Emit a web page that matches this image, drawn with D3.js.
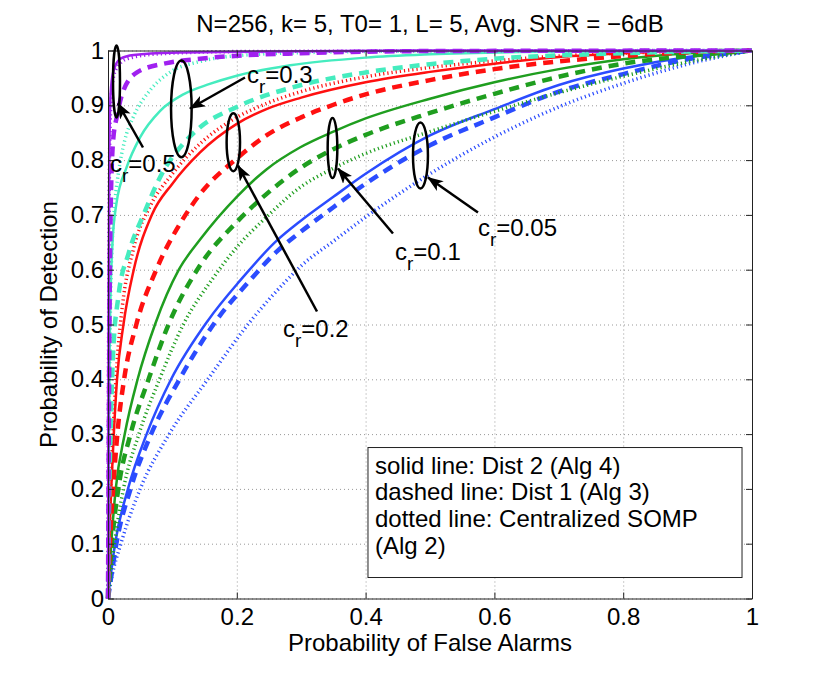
<!DOCTYPE html>
<html>
<head>
<meta charset="utf-8">
<script src="https://cdn.jsdelivr.net/npm/d3@7"></script>
<style>
body { margin: 0; background: #fff; }
text { font-family: "Liberation Sans", Arial, sans-serif; fill: #000; }
</style>
</head>
<body>
<div class="chart"></div>
<script>
// ROC points [Pfa, Pd]
const blueSolid  = [[0,0],[0.004,0.04],[0.011,0.1],[0.031,0.2],[0.06,0.3],[0.098,0.4],[0.155,0.507],[0.205,0.58],[0.262,0.653],[0.298,0.688],[0.35,0.733],[0.4,0.775],[0.5,0.845],[0.6,0.893],[0.7,0.937],[0.8,0.967],[0.9,0.988],[1,1]];
const blueDashed = [[0,0],[0.005,0.04],[0.013,0.1],[0.035,0.2],[0.067,0.3],[0.111,0.4],[0.168,0.507],[0.22,0.58],[0.262,0.633],[0.298,0.668],[0.35,0.714],[0.4,0.757],[0.5,0.827],[0.6,0.878],[0.7,0.925],[0.8,0.957],[0.9,0.984],[1,1]];
const blueDotted = [[0,0],[0.006,0.04],[0.02,0.1],[0.05,0.2],[0.095,0.3],[0.155,0.4],[0.222,0.507],[0.277,0.58],[0.3,0.607],[0.35,0.652],[0.4,0.696],[0.5,0.775],[0.6,0.842],[0.7,0.897],[0.8,0.94],[0.9,0.975],[1,1]];

const greenSolid  = [[0,0],[0.005,0.1],[0.012,0.2],[0.026,0.3],[0.046,0.4],[0.073,0.5],[0.11,0.6],[0.143,0.655],[0.2,0.733],[0.246,0.783],[0.298,0.823],[0.35,0.852],[0.4,0.876],[0.5,0.912],[0.6,0.942],[0.7,0.966],[0.8,0.984],[0.9,0.995],[1,1]];
const greenDashed = [[0,0],[0.006,0.1],[0.016,0.2],[0.035,0.3],[0.063,0.4],[0.094,0.5],[0.143,0.608],[0.2,0.687],[0.246,0.738],[0.298,0.785],[0.35,0.82],[0.4,0.846],[0.5,0.886],[0.6,0.921],[0.7,0.952],[0.8,0.976],[0.9,0.99],[1,1]];
const greenDotted = [[0,0],[0.01,0.1],[0.024,0.2],[0.048,0.3],[0.08,0.4],[0.117,0.5],[0.164,0.586],[0.2,0.641],[0.246,0.696],[0.298,0.75],[0.35,0.785],[0.4,0.812],[0.5,0.852],[0.6,0.889],[0.7,0.923],[0.8,0.953],[0.9,0.979],[1,1]];

const redSolid  = [[0,0],[0.002,0.1],[0.005,0.2],[0.009,0.3],[0.014,0.4],[0.024,0.5],[0.04,0.6],[0.068,0.7],[0.1,0.757],[0.143,0.814],[0.2,0.866],[0.246,0.893],[0.3,0.914],[0.4,0.942],[0.5,0.961],[0.6,0.976],[0.7,0.988],[0.8,0.995],[0.9,0.999],[1,1]];
const redDashed = [[0,0],[0.003,0.1],[0.008,0.2],[0.0145,0.3],[0.025,0.4],[0.044,0.5],[0.075,0.6],[0.115,0.69],[0.143,0.738],[0.2,0.803],[0.246,0.845],[0.3,0.878],[0.35,0.901],[0.4,0.92],[0.5,0.946],[0.6,0.966],[0.7,0.98],[0.8,0.99],[0.9,0.997],[1,1]];
const redDotted = [[0,0],[0.002,0.12],[0.005,0.23],[0.009,0.33],[0.014,0.43],[0.022,0.53],[0.04,0.64],[0.065,0.715],[0.1,0.775],[0.143,0.83],[0.2,0.878],[0.25,0.905],[0.3,0.925],[0.4,0.952],[0.5,0.969],[0.6,0.981],[0.7,0.99],[0.85,0.997],[1,1]];

const turqSolid  = [[0,0],[0.001,0.25],[0.003,0.5],[0.007,0.65],[0.013,0.72],[0.029,0.787],[0.05,0.842],[0.081,0.89],[0.117,0.92],[0.158,0.939],[0.2,0.954],[0.283,0.973],[0.4,0.987],[0.5,0.993],[0.7,0.998],[1,1]];
const turqDashed = [[0,0],[0.002,0.2],[0.004,0.3],[0.008,0.45],[0.016,0.55],[0.032,0.63],[0.055,0.7],[0.086,0.78],[0.117,0.83],[0.143,0.86],[0.2,0.897],[0.3,0.937],[0.4,0.96],[0.5,0.975],[0.6,0.985],[0.8,0.995],[1,1]];
const turqDotted = [[0,0],[0.002,0.35],[0.005,0.6],[0.011,0.726],[0.016,0.775],[0.026,0.836],[0.039,0.878],[0.065,0.927],[0.096,0.96],[0.143,0.98],[0.195,0.99],[0.3,0.996],[0.5,0.999],[1,1]];

const purpSolid  = [[0,0],[0.001,0.55],[0.002,0.8],[0.004,0.92],[0.008,0.96],[0.019,0.985],[0.04,0.992],[0.1,0.996],[0.25,0.998],[0.5,1],[1,1]];
const purpDashed = [[0,0],[0.002,0.45],[0.004,0.7],[0.008,0.836],[0.0135,0.878],[0.024,0.927],[0.045,0.96],[0.091,0.977],[0.143,0.985],[0.21,0.991],[0.3,0.995],[0.5,0.999],[1,1]];
const purpDotted = [[0,0],[0.001,0.5],[0.003,0.85],[0.006,0.93],[0.012,0.965],[0.03,0.985],[0.08,0.994],[0.2,0.998],[1,1]];

const xTicks = [0, 0.2, 0.4, 0.6, 0.8, 1];
const xTickLabels = ['0', '0.2', '0.4', '0.6', '0.8', '1'];
const yTicks = [0, 0.1, 0.2, 0.3, 0.4, 0.5, 0.6, 0.7, 0.8, 0.9, 1];
const yTickLabels = ['0', '0.1', '0.2', '0.3', '0.4', '0.5', '0.6', '0.7', '0.8', '0.9', '1'];

const legendLines = ['solid line: Dist 2 (Alg 4)', 'dashed line: Dist 1 (Alg 3)', 'dotted line: Centralized SOMP', '(Alg 2)'];

// annotations in data units: ellipse centre/radii, arrow tail -> head, label anchor
const crLabels   = ['0.5', '0.3', '0.2', '0.1', '0.05'];
const ellipses   = [[0.0132,0.9434,0.0054,0.0657],[0.1139,0.8936,0.016,0.0882],[0.1946,0.8325,0.0104,0.0529],[0.3486,0.8221,0.0075,0.0547],[0.4852,0.8084,0.0116,0.0602]];
const arrows     = [[0.0543,0.823,0.0155,0.9033],[0.2127,0.9507,0.1273,0.8942],[0.3245,0.5237,0.2019,0.7901],[0.4425,0.666,0.3571,0.7847],[0.5745,0.7044,0.4969,0.7682]];
const labelSpots = [[0.0031,0.7774],[0.2158,0.9398],[0.2717,0.4763],[0.4457,0.6168],[0.5745,0.6624]];

const colors = {blue: '#2b4cff', green: '#1f9e1f', red: '#ff1010', turq: '#45ecbf', purp: '#a020f0'};
const styles = {
    solid:  {w: 2.5, dash: null},
    dashed: {w: 4.5, dash: '10,7'},
    dotted: {w: 3.5, dash: '1.2,3'}
};

const series = [
    {c: colors.blue,  s: 'dotted', d: blueDotted}, {c: colors.blue,  s: 'dashed', d: blueDashed}, {c: colors.blue,  s: 'solid', d: blueSolid},
    {c: colors.green, s: 'dotted', d: greenDotted}, {c: colors.green, s: 'dashed', d: greenDashed}, {c: colors.green, s: 'solid', d: greenSolid},
    {c: colors.red,   s: 'dotted', d: redDotted}, {c: colors.red,   s: 'dashed', d: redDashed}, {c: colors.red,   s: 'solid', d: redSolid},
    {c: colors.turq,  s: 'dotted', d: turqDotted}, {c: colors.turq,  s: 'dashed', d: turqDashed}, {c: colors.turq,  s: 'solid', d: turqSolid},
    {c: colors.purp,  s: 'dotted', d: purpDotted}, {c: colors.purp,  s: 'dashed', d: purpDashed}, {c: colors.purp,  s: 'solid', d: purpSolid}
];

const width = 830, height = 674;
const plotL = 108, plotR = 752, plotT = 50.5, plotB = 598.5;
const fontSize = 24;

const x = d3.scaleLinear().domain([0, 1]).range([plotL, plotR]);
const y = d3.scaleLinear().domain([0, 1]).range([plotB, plotT]);

const svg = d3.select('.chart').append('svg')
    .attr('width', width)
    .attr('height', height);

svg.append('rect').attr('x', plotL).attr('y', plotT)
    .attr('width', plotR - plotL).attr('height', plotB - plotT)
    .attr('fill', '#fff');

// dotted grid
svg.append('g')
    .attr('transform', 'translate(0,' + plotB + ')')
    .call(d3.axisBottom(x).tickValues(xTicks).tickSize(-(plotB - plotT)).tickFormat(''))
    .call(g => g.select('.domain').remove())
    .selectAll('line').attr('stroke', '#999').attr('stroke-dasharray', '1,3');
svg.append('g')
    .attr('transform', 'translate(' + plotL + ',0)')
    .call(d3.axisLeft(y).tickValues(yTicks).tickSize(-(plotR - plotL)).tickFormat(''))
    .call(g => g.select('.domain').remove())
    .selectAll('line').attr('stroke', '#999').attr('stroke-dasharray', '1,3');

// curves
const line = d3.line()
    .x(d => x(d[0]))
    .y(d => y(d[1]))
    .curve(d3.curveMonotoneX);

svg.selectAll('.roc')
    .data(series)
    .enter().append('path')
    .attr('class', 'roc')
    .attr('fill', 'none')
    .attr('stroke', d => d.c)
    .attr('stroke-width', d => styles[d.s].w)
    .attr('stroke-dasharray', d => styles[d.s].dash)
    .attr('d', d => line(d.d));

// axes box with inward ticks
const axisStyle = g => {
    g.selectAll('.domain').attr('stroke', '#222');
    g.selectAll('.tick line').attr('stroke', '#222');
    g.selectAll('text').attr('font-size', fontSize).attr('font-family', '"Liberation Sans", Arial, sans-serif').attr('fill', '#000');
};
svg.append('g')
    .attr('transform', 'translate(0,' + plotB + ')')
    .call(d3.axisBottom(x).tickValues(xTicks).tickSizeInner(-6).tickSizeOuter(0).tickPadding(9)
        .tickFormat((d, i) => xTickLabels[i]))
    .call(axisStyle);
svg.append('g')
    .attr('transform', 'translate(0,' + plotT + ')')
    .call(d3.axisTop(x).tickValues(xTicks).tickSizeInner(-6).tickSizeOuter(0).tickFormat(''))
    .call(axisStyle);
svg.append('g')
    .attr('transform', 'translate(' + plotL + ',0)')
    .call(d3.axisLeft(y).tickValues(yTicks).tickSizeInner(-6).tickSizeOuter(0).tickPadding(4)
        .tickFormat((d, i) => yTickLabels[i]))
    .call(axisStyle);
svg.append('g')
    .attr('transform', 'translate(' + plotR + ',0)')
    .call(d3.axisRight(y).tickValues(yTicks).tickSizeInner(-6).tickSizeOuter(0).tickFormat(''))
    .call(axisStyle);

// title and axis labels
svg.append('text')
    .attr('x', (plotL + plotR) / 2).attr('y', 32)
    .attr('text-anchor', 'middle').attr('font-size', fontSize)
    .text('N=256, k= 5, T0= 1, L= 5, Avg. SNR = \u22126dB');
svg.append('text')
    .attr('x', (plotL + plotR) / 2).attr('y', 651)
    .attr('text-anchor', 'middle').attr('font-size', fontSize)
    .text('Probability of False Alarms');
svg.append('text')
    .attr('transform', 'translate(57,' + (plotT + plotB) / 2 + ') rotate(-90)')
    .attr('text-anchor', 'middle').attr('font-size', fontSize)
    .text('Probability of Detection');

// ellipses, arrows, c_r labels
const defs = svg.append('defs');
defs.append('marker')
    .attr('id', 'head')
    .attr('markerUnits', 'userSpaceOnUse')
    .attr('viewBox', '0 0 16 12')
    .attr('markerWidth', 16).attr('markerHeight', 12)
    .attr('refX', 15).attr('refY', 6)
    .attr('orient', 'auto')
    .append('path')
    .attr('d', 'M0,0 L16,6 L0,12 L4,6 Z')
    .attr('fill', '#000');

svg.selectAll('.ring')
    .data(ellipses)
    .enter().append('ellipse')
    .attr('class', 'ring')
    .attr('cx', d => x(d[0])).attr('cy', d => y(d[1]))
    .attr('rx', d => x(d[2]) - x(0)).attr('ry', d => y(0) - y(d[3]))
    .attr('fill', 'none').attr('stroke', '#000').attr('stroke-width', 2.5);

svg.selectAll('.arrow')
    .data(arrows)
    .enter().append('line')
    .attr('class', 'arrow')
    .attr('x1', d => x(d[0])).attr('y1', d => y(d[1]))
    .attr('x2', d => x(d[2])).attr('y2', d => y(d[3]))
    .attr('stroke', '#000').attr('stroke-width', 2.5)
    .attr('marker-end', 'url(#head)');

const labels = svg.selectAll('.crlab')
    .data(labelSpots)
    .enter().append('text')
    .attr('class', 'crlab')
    .attr('x', d => x(d[0])).attr('y', d => y(d[1]))
    .attr('font-size', fontSize);
labels.append('tspan').text('c');
labels.append('tspan').attr('dy', 10).attr('font-size', 19).text('r');
labels.append('tspan').attr('dy', -10).text((d, i) => '=' + crLabels[i]);

// legend box
const lg = svg.append('g');
lg.append('rect')
    .attr('x', x(0.4037)).attr('y', y(0.2755))
    .attr('width', x(0.9845) - x(0.4037)).attr('height', y(0.0383) - y(0.2755))
    .attr('fill', '#fff').attr('stroke', '#222').attr('stroke-width', 1);
lg.selectAll('text')
    .data(legendLines)
    .enter().append('text')
    .attr('x', x(0.4037) + 7)
    .attr('y', (d, i) => y(0.2755) + 26 + i * 26.7)
    .attr('font-size', fontSize)
    .text(d => d);
</script>
</body>
</html>
